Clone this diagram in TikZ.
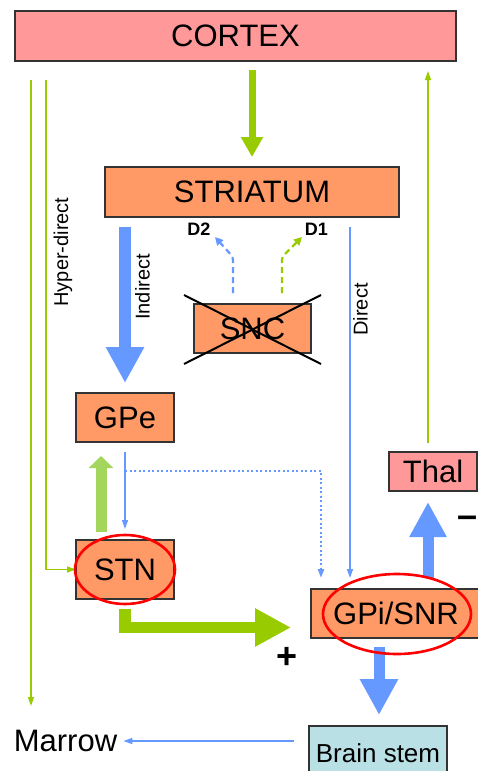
\documentclass[tikz,border=0pt]{standalone}
\usepackage{fontspec}
\setmainfont{Liberation Sans}
\usetikzlibrary{arrows.meta,calc}
\definecolor{boxorange}{HTML}{FF9966}
\definecolor{boxpink}{HTML}{FF9999}
\definecolor{boxcyan}{HTML}{B9E0E4}
\definecolor{arrblue}{HTML}{6699FF}
\definecolor{arrgreen}{HTML}{99CC00}
\definecolor{arrlgreen}{HTML}{A4D65E}
\definecolor{boxline}{HTML}{333333}
\begin{document}
\begin{tikzpicture}[x=1pt,y=-1pt,
  box/.style={draw=boxline, line width=1.2pt, inner sep=0pt, outer sep=0pt, font=\fontsize{31}{36}\selectfont},
  obox/.style={box, fill=boxorange},
  pbox/.style={box, fill=boxpink},
  cbox/.style={box, fill=boxcyan, font=\fontsize{26}{30}\selectfont},
  lab/.style={inner sep=0pt, font=\fontsize{20}{24}\selectfont, rotate=90},
  dlab/.style={inner sep=0pt, font=\fontsize{18}{22}\selectfont\bfseries},
  sign/.style={inner sep=0pt, font=\fontsize{36}{40}\selectfont\bfseries},
  ring/.style={draw=red, line width=2.6pt},
  gbig/.style={draw=arrgreen, line width=7pt, -{Triangle[width=21pt,length=20pt]}},
  bbig/.style={draw=arrblue, line width=12pt, -{Triangle[width=36pt,length=36pt]}},
  gL/.style={draw=arrgreen, line width=11.5pt, -{Triangle[width=36pt,length=36pt]}},
  glup/.style={draw=arrlgreen, line width=11pt, -{Triangle[width=24pt,length=12pt]}},
  bmid/.style={draw=arrblue, line width=11pt, -{Triangle[width=35pt,length=35pt]}},
  gthin/.style={draw=arrgreen, line width=1.3pt, -{Triangle[width=6pt,length=9pt]}},
  bthin/.style={draw=arrblue, line width=1.5pt, -{Triangle[width=6pt,length=9pt]}},
  bdash/.style={draw=arrblue, line width=2.2pt, dash pattern=on 6pt off 4pt, rounded corners=3pt, -{Triangle[width=8pt,length=8pt]}},
  gdash/.style={draw=arrgreen, line width=2.2pt, dash pattern=on 6pt off 4pt, rounded corners=3pt, -{Triangle[width=8pt,length=8pt]}},
  bdot/.style={draw=arrblue, line width=2.2pt, dash pattern=on 2pt off 2.5pt, -{Triangle[width=6pt,length=9pt]}},
  xline/.style={draw=black, line width=2pt}
]
\useasboundingbox (0,0) rectangle (477,771);
\fill[white] (0,0) rectangle (477,771);

% boxes
\node[pbox, minimum width=441pt, minimum height=50pt] (cortex) at (235.5,36) {CORTEX};
\node[obox, minimum width=294pt, minimum height=50pt] (striatum) at (252,192) {STRIATUM};
\node[obox, minimum width=117pt, minimum height=49pt] (snc) at (252.5,328.5) {SNC};
\node[obox, minimum width=98pt, minimum height=49pt] (gpe) at (125,417.5) {GPe};
\node[obox, minimum width=98pt, minimum height=59pt] (stn) at (125,569.5) {STN};
\node[obox, minimum width=170pt, minimum height=49pt] (gpi) at (396,613.5) {GPi/SNR};
\node[pbox, minimum width=88pt, minimum height=39pt] (thal) at (433,471.5) {Thal};
\node[cbox, minimum width=138pt, minimum height=54pt] (bs) at (378,753) {Brain stem};
\node[inner sep=0pt, font=\fontsize{31}{36}\selectfont] (marrow) at (65.5,741) {Marrow};

% labels
\node[lab] (lhyper) at (63,252) {Hyper-direct};
\node[lab] (lindirect) at (142.5,287) {Indirect};
\node[lab] (ldirect) at (360.5,309.5) {Direct};
\node[dlab] (d2) at (199,229.5) {D2};
\node[dlab] (d1) at (316.5,229.5) {D1};
\node[sign] (plus) at (287,658) {+};
\node[sign] (minus) at (468,522) {–};

% column coordinates
\coordinate (cDirect) at (350,0);
\coordinate (cDot) at (321,0);
\coordinate (cHyp) at (46,0);
\coordinate (cOuter) at (31,0);
\coordinate (cThal) at (428,0);
\coordinate (cBS) at (379,0);
\coordinate (cUp) at (101,0);
\coordinate (cD2) at (233,0);
\coordinate (cD1) at (282,0);
\coordinate (outerEnd) at (31,706);

% cortex -> striatum
\draw[gbig, shorten <=9pt, shorten >=10pt] (cortex.south -| striatum.north) -- (striatum.north);
% indirect
\draw[bbig, shorten <=10pt, shorten >=10pt] (striatum.south -| gpe.north) -- (gpe.north);
% direct
\draw[bthin, shorten <=10pt, shorten >=11pt] (striatum.south -| cDirect) -- (gpi.north -| cDirect);
% hyper-direct
\draw[gthin] ([yshift=-19pt]cortex.south -| cHyp) |- (stn.west);
% outer to marrow
\draw[gthin] ([yshift=-19pt]cortex.south -| cOuter) -- (outerEnd);
% thal -> cortex
\draw[gthin, shorten <=9pt, shorten >=10pt] (thal.north -| cThal) -- (cortex.south -| cThal);
% SNC dashed D2 / D1
\draw[bdash] ([yshift=11pt]snc.north -| cD2) -- ++(0,-36) -- ++(-18,-20);
\draw[gdash] ([yshift=11pt]snc.north -| cD1) -- ++(0,-36) -- ++(20,-20);
% SNC cross
\draw[xline] ($(snc.center)+(-68.5,-33.5)$) -- ($(snc.center)+(68.5,35.5)$);
\draw[xline] ($(snc.center)+(-68.5,35.5)$) -- ($(snc.center)+(68.5,-33.5)$);
% GPe -> STN
\draw[bthin, shorten <=10pt, shorten >=11pt] (gpe.south) -- (stn.north);
% dotted GPe -> GPi
\draw[bdot] ([yshift=-29pt]gpe.south) -| ([yshift=11pt]gpi.north -| cDot);
% STN -> GPe
\draw[glup, shorten <=8pt, shorten >=14pt] (stn.north -| cUp) -- (gpe.south -| cUp);
% STN -> GPi
\draw[gL] ([yshift=-10pt]stn.south) |- ([xshift=-20pt,yshift=-14pt]gpi.west);
% GPi -> Thal
\draw[bmid, shorten <=11pt, shorten >=11pt] (gpi.north -| cThal) -- (thal.south -| cThal);
% GPi -> Brain stem
\draw[bbig, line width=11pt, shorten <=9pt, shorten >=11pt] (gpi.south -| cBS) -- (bs.north -| cBS);
% Brain stem -> Marrow
\draw[bthin, shorten <=15pt, shorten >=6pt] (bs.west |- marrow.east) -- (marrow.east);

% rings
\draw[ring] (125,569.5) ellipse [x radius=50, y radius=34.5];
\draw[ring] (397,614) ellipse [x radius=74, y radius=40];
\end{tikzpicture}
\end{document}
